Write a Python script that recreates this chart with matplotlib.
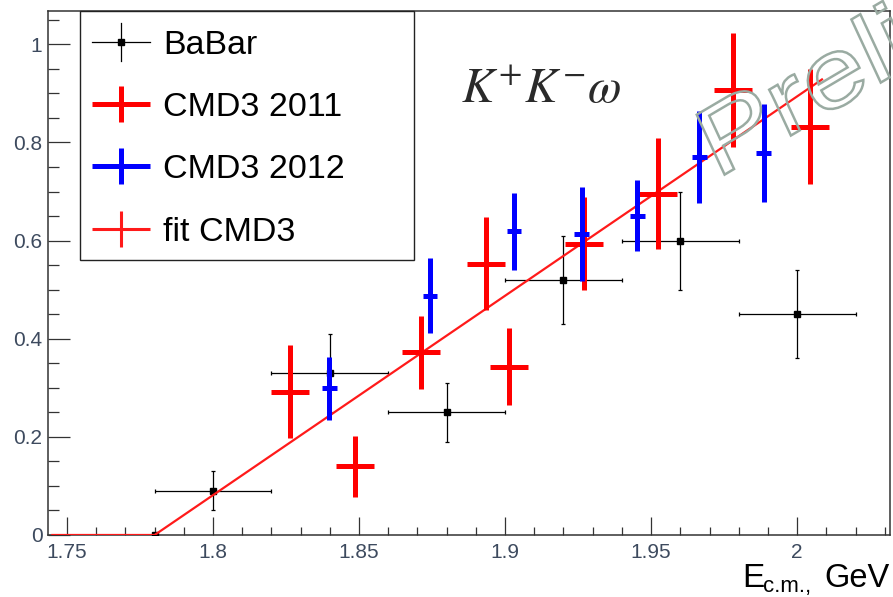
import matplotlib
matplotlib.use('Agg')
import numpy as np
import matplotlib.pyplot as plt
from matplotlib.ticker import MultipleLocator, FuncFormatter
from matplotlib.textpath import TextPath
from matplotlib.patches import PathPatch, Rectangle
from matplotlib.font_manager import FontProperties
from matplotlib.transforms import Affine2D

plt.rcParams['font.family'] = ['Liberation Sans', 'DejaVu Sans']

# BaBar points
babar_x = [1.78, 1.80, 1.84, 1.88, 1.92, 1.96, 2.00]
babar_y = [0.0, 0.09, 0.33, 0.25, 0.52, 0.60, 0.45]
babar_xerr = [0.0, 0.02, 0.02, 0.02, 0.02, 0.02, 0.02]
babar_yerr = [0.0, 0.04, 0.08, 0.06, 0.09, 0.10, 0.09]

# CMD3 2011
cmd11_x = [1.8264, 1.8486, 1.8711, 1.8935, 1.9014, 1.9270, 1.9525, 1.9780, 2.0045]
cmd11_y = [0.292, 0.140, 0.372, 0.553, 0.343, 0.594, 0.696, 0.907, 0.832]
cmd11_yerr = [0.095, 0.062, 0.075, 0.095, 0.079, 0.095, 0.113, 0.117, 0.117]
cmd11_xerr = 0.0065

# CMD3 2012
cmd12_x = [1.8398, 1.8743, 1.9031, 1.9262, 1.9453, 1.9665, 1.9885]
cmd12_y = [0.299, 0.488, 0.619, 0.614, 0.651, 0.770, 0.779]
cmd12_yerr = [0.064, 0.076, 0.078, 0.096, 0.073, 0.094, 0.100]
cmd12_xerr = 0.0025

# fit CMD3 (threshold + linear)
fit_x = [1.745, 1.78, 2.0085]
fit_y = [0.0, 0.0, 0.9285]

legend_labels = ['BaBar', 'CMD3 2011', 'CMD3 2012', 'fit CMD3']

W, H = 893, 597
fig = plt.figure(figsize=(W / 100, H / 100), dpi=100)
ax = fig.add_axes([48 / W, 62 / H, 842 / W, 524 / H])

ax.errorbar(babar_x, babar_y, xerr=babar_xerr, yerr=babar_yerr, fmt='s', color='black',
            ms=5, elinewidth=0.9, capsize=1.5, capthick=0.9, zorder=3)
ax.plot(fit_x, fit_y, color='#ff1a1a', lw=1.6, zorder=4)
ax.errorbar(cmd11_x, cmd11_y, xerr=cmd11_xerr, yerr=cmd11_yerr, fmt='none', ecolor='#ff0000',
            elinewidth=3.6, capsize=0, zorder=5)
ax.errorbar(cmd12_x, cmd12_y, xerr=cmd12_xerr, yerr=cmd12_yerr, fmt='none', ecolor='#0000ff',
            elinewidth=3.6, capsize=0, zorder=6)

ax.set_xlim(1.7435, 2.0318)
ax.set_ylim(0, 1.068)
ax.xaxis.set_major_locator(MultipleLocator(0.05))
ax.xaxis.set_minor_locator(MultipleLocator(0.01))
ax.yaxis.set_major_locator(MultipleLocator(0.2))
ax.yaxis.set_minor_locator(MultipleLocator(0.05))
fmt = FuncFormatter(lambda v, p: '%g' % round(v, 3))
ax.xaxis.set_major_formatter(fmt)
ax.yaxis.set_major_formatter(fmt)

tick_col = '#3d4a5e'
ax.tick_params(which='both', direction='in', top=False, right=False, color='#333333',
               width=0.9, labelsize=15, labelcolor=tick_col)
ax.tick_params(axis='y', which='major', length=16, pad=4)
ax.tick_params(axis='y', which='minor', length=8)
ax.tick_params(axis='x', which='major', length=13, pad=6)
ax.tick_params(axis='x', which='minor', length=6)
for s in ax.spines.values():
    s.set_color('#333333')
    s.set_linewidth(1.1)

# overlay in pixel coordinates for legend and texts
lax = fig.add_axes([0, 0, 1, 1], zorder=10)
lax.set_xlim(0, W)
lax.set_ylim(H, 0)
lax.axis('off')
lax.patch.set_alpha(0)

lax.add_patch(Rectangle((80, 11), 334, 249, facecolor='white', edgecolor='#222222', lw=1.0))
rows = [42, 104, 166, 229]
# BaBar
lax.plot([92, 150], [rows[0], rows[0]], color='black', lw=0.9)
lax.plot([121, 121], [rows[0] - 19, rows[0] + 19], color='black', lw=0.9)
lax.plot([121], [rows[0]], 's', color='black', ms=5)
# CMD3 2011 / 2012
for r, c in [(rows[1], '#ff0000'), (rows[2], '#0000ff')]:
    lax.plot([92, 150], [r, r], color=c, lw=3.6, solid_capstyle='butt')
    lax.plot([121, 121], [r - 18, r + 18], color=c, lw=3.6, solid_capstyle='butt')
# fit
lax.plot([92, 150], [rows[3], rows[3]], color='#ff1a1a', lw=2.2, solid_capstyle='butt')
lax.plot([121, 121], [rows[3] - 18, rows[3] + 18], color='#ff1a1a', lw=2.2, solid_capstyle='butt')
for r, lab in zip(rows, legend_labels):
    lax.text(163, r, lab, fontsize=24.5, va='center_baseline', ha='left', color='black')

lax.text(461, 103, r'$K^{+}K^{-}\omega$', fontsize=35, math_fontfamily='stix',
         color='#2a2a2a', va='baseline', ha='left')

# x axis title E_{c.m.}, GeV
lax.text(742, 587, 'E', fontsize=24, va='baseline', ha='left', color='black')
lax.text(763, 592, 'c.m.,', fontsize=16, va='baseline', ha='left', color='black')
lax.text(824, 587, 'GeV', fontsize=23.5, va='baseline', ha='left', color='black')

# "Preliminary" watermark, outlined and slanted (text path in em units -> pixels)
tp = TextPath((0, 0), 'Preliminary', size=1, prop=FontProperties(family='Liberation Sans'))
wm_tr = Affine2D(np.array([[101.3, -40.5, 716.3],
                           [59.7, 87.1, 417.5],
                           [0.0, 0.0, 1.0]]))
wm = PathPatch(tp, transform=wm_tr, facecolor='none', edgecolor='#9aaba2', lw=1.8, zorder=20)
fig.add_artist(wm)

fig.savefig('out.png', dpi=100)
